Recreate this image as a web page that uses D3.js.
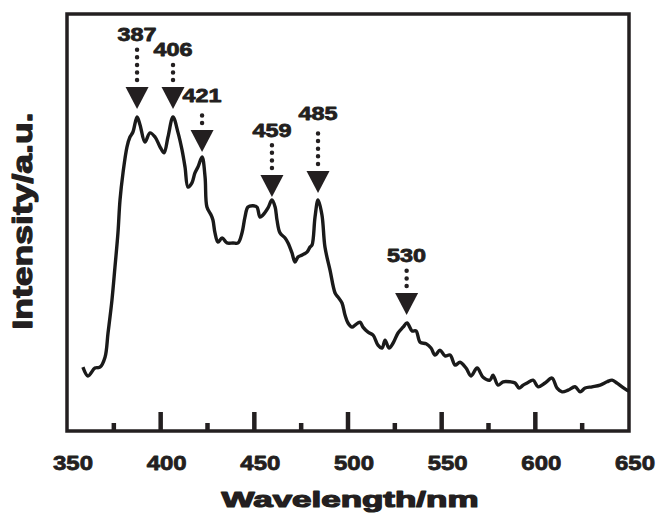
<!DOCTYPE html>
<html>
<head>
<meta charset="utf-8">
<script src="https://d3js.org/d3.v7.min.js"></script>
<style>
  body { margin: 0; background: #fff; }
  text { font-family: "Liberation Sans", Arial, sans-serif; font-weight: bold; fill: #231f20; stroke: #231f20; stroke-linejoin: round; }
</style>
</head>
<body>
<script>
// emission spectrum (intensity in arbitrary units 0-100)
const wavelength = [358.5, 361.2, 364.9, 367.6, 370.3, 371.9, 374.0, 375.6, 377.2, 378.3,
  379.9, 382.0, 383.6, 385.2, 387.4, 389.0, 391.6, 394.3, 397.0, 399.7,
  401.8, 403.9, 406.6, 409.3, 411.4, 413.0, 414.6, 416.7, 418.3, 419.9,
  422.1, 423.7, 424.7, 426.9, 427.9, 429.0, 430.6, 432.8, 435.4, 438.6,
  441.3, 443.4, 445.0, 446.6, 449.3, 451.4, 453.0, 454.6, 457.3, 459.4,
  461.1, 462.1, 463.7, 466.4, 468.0, 470.1, 471.7, 473.3, 475.5, 478.1,
  479.7, 480.8, 482.4, 484.0, 486.1, 487.7, 490.4, 493.1, 494.7, 496.8,
  498.4, 500.0, 502.2, 503.8, 506.4, 508.0, 510.7, 513.4, 516.0, 518.2,
  519.8, 521.9, 524.1, 526.7, 529.4, 531.5, 534.2, 536.3, 538.5, 541.7,
  544.3, 546.5, 549.1, 551.8, 554.5, 557.2, 559.8, 563.0, 565.7, 568.9,
  572.1, 575.8, 577.4, 580.1, 582.8, 586.5, 589.2, 591.3, 593.5, 595.6,
  598.8, 601.5, 605.2, 608.9, 611.6, 614.3, 617.5, 621.2, 623.9, 626.6,
  630.3, 634.6, 638.3, 641.0, 643.6, 646.3, 649.0, 650.0];
const intensity = [15.3, 13.2, 15.1, 15.3, 17.7, 23.5, 31.4, 39.3, 47.5, 55.4,
  61.9, 68.1, 70.5, 71.7, 75.3, 73.4, 69.3, 71.5, 70.5, 68.1,
  66.7, 70.5, 75.3, 71.5, 67.4, 63.3, 58.5, 59.5, 61.9, 63.3,
  65.7, 60.9, 53.7, 51.8, 50.6, 47.5, 45.3, 46.3, 45.1, 45.1,
  45.1, 47.5, 51.3, 53.7, 54.0, 53.7, 51.3, 51.8, 53.5, 55.4,
  53.7, 50.6, 47.5, 46.3, 45.1, 42.7, 40.5, 41.7, 42.2, 42.9,
  44.1, 44.6, 51.3, 55.4, 51.8, 44.1, 38.6, 33.1, 32.1, 30.7,
  27.8, 25.9, 24.9, 25.4, 26.1, 24.9, 23.7, 23.0, 20.6, 19.9,
  21.8, 19.9, 21.1, 23.5, 24.9, 25.9, 24.0, 24.0, 21.3, 20.9,
  19.9, 18.2, 19.4, 18.0, 18.2, 15.8, 16.5, 15.1, 13.2, 15.1,
  12.9, 12.2, 13.4, 11.0, 11.8, 11.8, 11.5, 10.3, 11.0, 11.5,
  12.2, 10.6, 11.5, 12.7, 10.3, 9.4, 9.8, 10.6, 9.4, 10.3,
  10.6, 11.0, 11.8, 12.2, 11.5, 10.6, 9.8, 9.6];

// peak markers: arrow position, label text, arrow tip and label heights
const peakPos = [387.4, 406.6, 422.1, 459.4, 484.0, 531.3];
const peakLabels = ["387", "406", "421", "459", "485", "530"];
const peakTip = [77.2, 77.2, 66.9, 56.1, 57.1, 27.8];
const peakLabelAt = [93.5, 89.9, 78.9, 70.5, 74.6, 40.5];

const majorTicks = [350, 400, 450, 500, 550, 600, 650];
const minorTicks = [375, 425, 475, 525, 575, 625];

const width = 658, height = 518;
const margin = {left: 67, right: 29, top: 14, bottom: 87};

const svg = d3.select('body')
  .append('svg')
  .attr('width', width)
  .attr('height', height);

const x = d3.scaleLinear()
  .domain([350, 650])
  .range([margin.left, width - margin.right]);

const y = d3.scaleLinear()
  .domain([0, 100])
  .range([height - margin.bottom, margin.top]);

const ink = "#231f20";

// frame
svg.append("rect")
  .attr("x", x(350))
  .attr("y", y(100))
  .attr("width", x(650) - x(350))
  .attr("height", y(0) - y(100))
  .attr("fill", "none")
  .attr("stroke", ink)
  .attr("stroke-width", 3.5);

// inward ticks on the bottom axis
svg.selectAll(".major")
  .data(majorTicks.slice(1, -1))
  .enter()
  .append("line")
  .attr("x1", d => x(d)).attr("x2", d => x(d))
  .attr("y1", y(0)).attr("y2", y(0) - 19)
  .attr("stroke", ink)
  .attr("stroke-width", 4.5);

svg.selectAll(".minor")
  .data(minorTicks)
  .enter()
  .append("line")
  .attr("x1", d => x(d)).attr("x2", d => x(d))
  .attr("y1", y(0)).attr("y2", y(0) - 8)
  .attr("stroke", ink)
  .attr("stroke-width", 4.5);

svg.selectAll(".ticklabel")
  .data(majorTicks)
  .enter()
  .append("text")
  .attr("x", d => x(d) + 6)
  .attr("y", y(0) + 39)
  .attr("text-anchor", "middle")
  .attr("font-size", "21px")
  .attr("stroke-width", 0.8)
  .attr("textLength", 40)
  .attr("lengthAdjust", "spacingAndGlyphs")
  .text(d => d);

// axis titles
svg.append("text")
  .attr("x", 350)
  .attr("y", 507)
  .attr("text-anchor", "middle")
  .attr("font-size", "22px")
  .attr("stroke-width", 1.2)
  .attr("textLength", 257)
  .attr("lengthAdjust", "spacingAndGlyphs")
  .text("Wavelength/nm");

svg.append("text")
  .attr("transform", "translate(32,221) rotate(-90)")
  .attr("text-anchor", "middle")
  .attr("font-size", "28px")
  .attr("stroke-width", 1.2)
  .attr("textLength", 217)
  .attr("lengthAdjust", "spacingAndGlyphs")
  .text("Intensity/a.u.");

// spectrum
const line = d3.line()
  .x(d => x(d[0]))
  .y(d => y(d[1]))
  .curve(d3.curveCatmullRom.alpha(0.5));

svg.append("path")
  .datum(wavelength.map((w, i) => [w, intensity[i]]))
  .attr("d", line)
  .attr("fill", "none")
  .attr("stroke", "#1a1a1a")
  .attr("stroke-width", 3.4)
  .attr("stroke-linejoin", "round");

// peak annotations
const peaks = peakPos.map((p, i) => ({
  pos: p, label: peakLabels[i], tip: peakTip[i], at: peakLabelAt[i]
}));

const pk = svg.selectAll(".peak")
  .data(peaks)
  .enter()
  .append("g");

pk.append("path")
  .attr("d", d => {
    const cx = x(d.pos), ty = y(d.tip);
    return `M${cx - 11.5},${ty - 22}L${cx + 11.5},${ty - 22}L${cx},${ty}Z`;
  })
  .attr("fill", ink);

pk.append("line")
  .attr("x1", d => x(d.pos)).attr("x2", d => x(d.pos))
  .attr("y1", d => y(d.tip) - 29)
  .attr("y2", d => y(d.at) + 7)
  .attr("stroke", ink)
  .attr("stroke-width", 4.5)
  .attr("stroke-linecap", "round")
  .attr("stroke-dasharray", "0 7.6");

pk.append("text")
  .attr("x", d => x(d.pos))
  .attr("y", d => y(d.at))
  .attr("text-anchor", "middle")
  .attr("font-size", "18px")
  .attr("stroke-width", 0.8)
  .attr("textLength", 39)
  .attr("lengthAdjust", "spacingAndGlyphs")
  .text(d => d.label);
</script>
</body>
</html>
